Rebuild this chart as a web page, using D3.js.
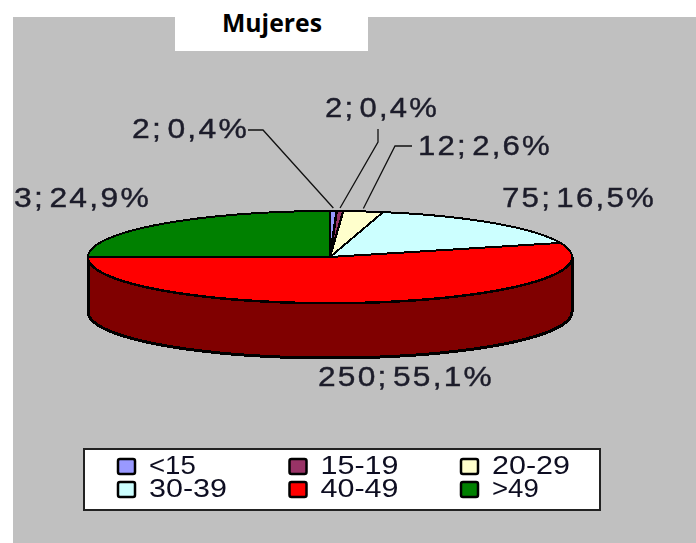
<!DOCTYPE html>
<html>
<head>
<meta charset="utf-8">
<script src="https://cdn.jsdelivr.net/npm/d3@7"></script>
<style>
  html, body { margin: 0; padding: 0; background: #fff; }
  svg { display: block; }
  text { font-family: "Liberation Sans", Arial, sans-serif; }
</style>
</head>
<body>
<div id="chart"></div>
<script>
// values
var categories = ["<15", "15-19", "20-29", "30-39", "40-49", ">49"];
var counts = [2, 2, 12, 75, 250, 113];
var sliceLabels = ["2; 0,4%", "2; 0,4%", "12; 2,6%", "75; 16,5%", "250; 55,1%", "3; 24,9%"];
var colors = ["#9999ff", "#993366", "#ffffcc", "#ccffff", "#ff0000", "#008000"];
var sideColor = "#800000";

var width = 696, height = 543;

var svg = d3.select("#chart").append("svg")
  .attr("width", width)
  .attr("height", height);

var defs = svg.append("defs");
defs.append("filter").attr("id", "soft")
  .append("feGaussianBlur").attr("stdDeviation", 0.4);

// grey panel and the white box behind the title
svg.append("rect").attr("x", 13).attr("y", 17).attr("width", width - 13).attr("height", height - 17).attr("fill", "#c0c0c0");
svg.append("rect").attr("x", 175).attr("y", 0).attr("width", 193).attr("height", 51).attr("fill", "#fff");

svg.append("text")
  .attr("x", 222).attr("y", 32)
  .attr("textLength", 100).attr("lengthAdjust", "spacingAndGlyphs")
  .style("font-family", "'Open Sans', sans-serif")
  .style("font-weight", 700).style("font-size", "25px")
  .attr("fill", "#000")
  .text("Mujeres");

// flattened pie: unit circle projected with two scales
var px = d3.scaleLinear().domain([-1, 1]).range([88, 572]);
var py = d3.scaleLinear().domain([-1, 1]).range([211, 303]);
var depth = 55;

var pie = d3.pie().sort(null).value(function(d){ return d; });
var slices = pie(counts);

function edgeX(a){ return px(Math.sin(a)); }
function edgeY(a){ return py(-Math.cos(a)); }

var line = d3.line().x(function(d){ return d[0]; }).y(function(d){ return d[1]; });

function sweep(a0, a1){
  var n = Math.max(2, Math.ceil((a1 - a0) / 0.02));
  return d3.range(n + 1).map(function(i){ return a0 + (a1 - a0) * i / n; });
}

// side wall, only the front half shows
var side = d3.area()
  .x(function(a){ return edgeX(a); })
  .y0(function(a){ return edgeY(a); })
  .y1(function(a){ return edgeY(a) + depth; });

svg.append("path")
  .attr("d", side(sweep(Math.PI / 2, Math.PI * 1.5)))
  .attr("fill", sideColor)
  .attr("stroke", "#000")
  .attr("stroke-width", 3)
  .attr("shape-rendering", "crispEdges");

// top faces
svg.selectAll(".slice")
  .data(slices)
  .enter()
    .append("path")
    .attr("class", "slice")
    .attr("d", function(d){
      var pts = sweep(d.startAngle, d.endAngle).map(function(a){ return [edgeX(a), edgeY(a)]; });
      return line([[px(0), py(0)]].concat(pts)) + "Z";
    })
    .attr("fill", function(d,i){ return colors[i]; })
    .attr("stroke", "#000")
    .attr("stroke-width", function(d,i){ return i < 2 ? 2.5 : 2; })
    .attr("stroke-linejoin", "round")
    .attr("shape-rendering", "crispEdges");

// leader lines for the three thin slices, elbow and end next to the label
var leaderBends = [[[263, 130], [248, 130]], [[378, 142], [378, 129]], [[395, 146], [412, 146]]];

svg.selectAll(".leader")
  .data(leaderBends)
  .enter()
    .append("path")
    .attr("class", "leader")
    .attr("d", function(d,i){
      var mid = (slices[i].startAngle + slices[i].endAngle) / 2;
      return line([[edgeX(mid), edgeY(mid) - 3]].concat(d));
    })
    .attr("fill", "none")
    .attr("stroke", "#111")
    .attr("stroke-width", 1.3);

// slice labels, [left, baseline, width]
var labelBoxes = [[132, 138, 117], [325, 117, 114], [418, 155, 134], [502, 207, 154], [318, 386, 176], [14, 207, 137]];

svg.selectAll(".slice-label")
  .data(sliceLabels)
  .enter()
    .append("text")
    .attr("class", "slice-label")
    .attr("x", function(d,i){ return labelBoxes[i][0]; })
    .attr("y", function(d,i){ return labelBoxes[i][1]; })
    .attr("textLength", function(d,i){ return labelBoxes[i][2]; })
    .attr("lengthAdjust", "spacingAndGlyphs")
    .attr("fill", "#1c1c2a")
    .attr("stroke", "#1c1c2a")
    .attr("stroke-width", 0.4)
    .attr("filter", "url(#soft)")
    .style("font-size", "28px")
    .style("letter-spacing", "2px")
    .style("word-spacing", "-6px")
    .text(function(d){ return d; });

// legend
svg.append("rect")
  .attr("x", 84).attr("y", 449).attr("width", 516).attr("height", 61)
  .attr("fill", "#fff").attr("stroke", "#222").attr("stroke-width", 2);

var legendX = d3.scalePoint().domain([0, 1, 2]).range([117, 460]);
var legendY = d3.scalePoint().domain([0, 1]).range([458, 481]);

var legend = svg.selectAll(".legend-item")
  .data(categories)
  .enter()
    .append("g")
    .attr("class", "legend-item")
    .attr("transform", function(d,i){
      return "translate(" + legendX(i % 3) + "," + legendY(Math.floor(i / 3)) + ")";
    });

legend.append("rect")
  .attr("x", 1).attr("y", 1).attr("width", 17).attr("height", 15).attr("rx", 2)
  .attr("fill", function(d,i){ return colors[i]; })
  .attr("stroke", "#000").attr("stroke-width", 2.5);

legend.append("text")
  .attr("x", 32).attr("y", 16)
  .attr("fill", "#101020")
  .attr("filter", "url(#soft)")
  .style("font-size", "25px")
  .attr("textLength", function(d){ return d.length * 15.6; })
  .attr("lengthAdjust", "spacingAndGlyphs")
  .text(function(d){ return d; });
</script>
</body>
</html>
